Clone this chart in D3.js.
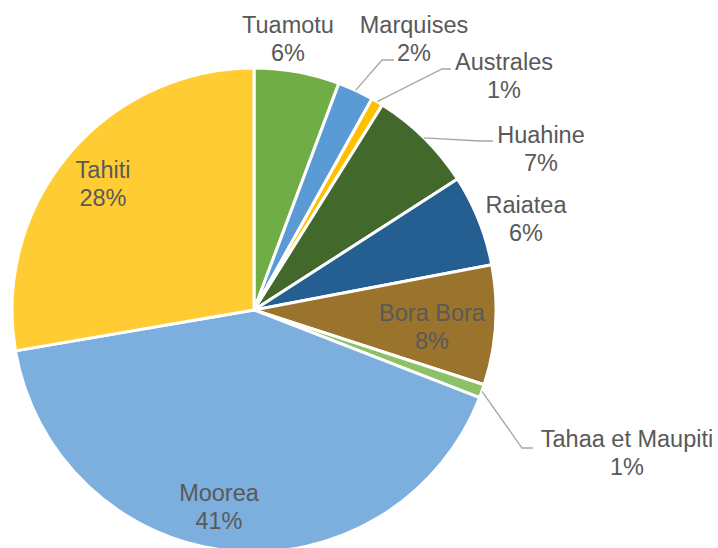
<!DOCTYPE html>
<html>
<head>
<meta charset="utf-8">
<script src="https://cdn.jsdelivr.net/npm/d3@7"></script>
<style>
  html, body { margin: 0; padding: 0; background: #ffffff; }
  svg { display: block; }
  text { font-family: "Liberation Sans", Arial, Helvetica, sans-serif; fill: #595959; }
</style>
</head>
<body>
<div id="chart"></div>
<script>
// ---- data ----
const categories = ["Tuamotu", "Marquises", "Australes", "Huahine", "Raiatea", "Bora Bora", "Tahaa et Maupiti", "Moorea", "Tahiti"];
const shares = [5.7, 2.4, 0.8, 7.0, 6.1, 8.0, 0.9, 41.4, 27.7];
const colors = ["#70AD47", "#5B9BD5", "#FFC000", "#43682B", "#255E91", "#9A742C", "#8CC168", "#7CAFDD", "#FFCD33"];

// ---- layout (label placement, as laid out in the reference) ----
const labelX = [288, 414, 504, 541, 526, 432, 627, 219, 103];
const labelY = [33, 33, 70, 143, 213, 321, 447, 501, 178];
// leader elbows: [elbowX, elbowY, endX] or null
const leaders = [null, [382, 60, 394], [442, 69, 451], [480, 141, 493], null, null, [522, 448, 533], null, null];

const W = 718, H = 548;
const cx = 254, cy = 310, R = 242;

const svg = d3.select("#chart").append("svg").attr("width", W).attr("height", H);
const g = svg.append("g").attr("transform", `translate(${cx},${cy})`);

const pie = d3.pie().sort(null).value(d => d.v).startAngle(0).endAngle(2 * Math.PI);
const data = categories.map((c, i) => ({ c, v: shares[i], i }));
const arcs = pie(data);
const arc = d3.arc().innerRadius(0).outerRadius(R);
const total = d3.sum(shares);
const pct = v => Math.round(v / total * 100) + "%";

g.selectAll("path.slice").data(arcs).enter().append("path")
  .attr("class", "slice")
  .attr("d", arc)
  .attr("fill", d => colors[d.data.i])
  .attr("stroke", "#ffffff")
  .attr("stroke-width", 3)
  .attr("stroke-linejoin", "round");

// leader lines from slice edge (mid-angle on the rim) to the label
arcs.forEach(d => {
  const L = leaders[d.data.i];
  if (!L) return;
  const a = (d.startAngle + d.endAngle) / 2;
  const x0 = cx + R * Math.sin(a), y0 = cy - R * Math.cos(a);
  svg.append("polyline")
    .attr("points", `${x0},${y0} ${L[0]},${L[1]} ${L[2]},${L[1]}`)
    .attr("fill", "none")
    .attr("stroke", "#A6A6A6")
    .attr("stroke-width", 1.3);
});

// labels
const lab = svg.selectAll("text.lab").data(arcs).enter().append("text")
  .attr("class", "lab")
  .attr("text-anchor", "middle")
  .style("font-size", "23.5px");
lab.append("tspan").attr("x", d => labelX[d.data.i]).attr("y", d => labelY[d.data.i]).text(d => d.data.c);
lab.append("tspan").attr("x", d => labelX[d.data.i]).attr("y", d => labelY[d.data.i] + 28).text(d => pct(d.data.v));
</script>
</body>
</html>
